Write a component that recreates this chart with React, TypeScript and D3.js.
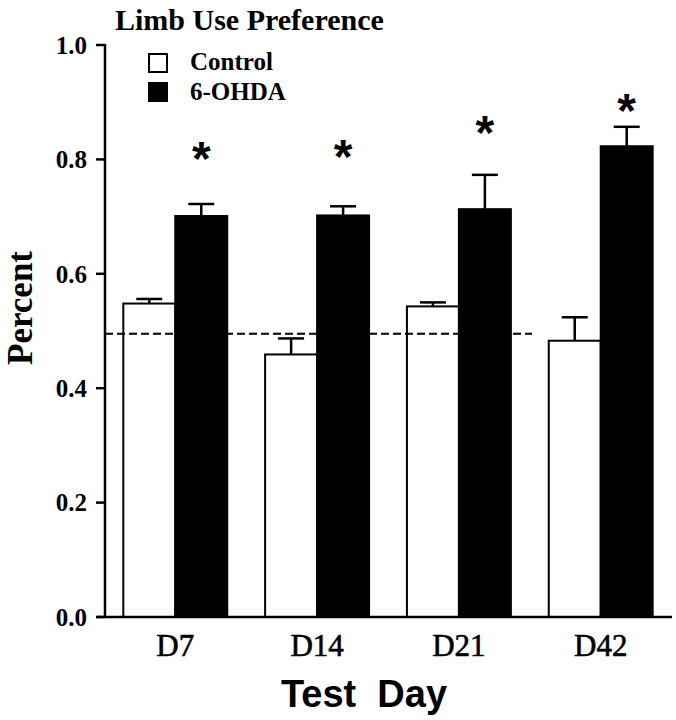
import React from "react";
import * as d3 from "d3";

const categories = ["D7", "D14", "D21", "D42"];
const seriesNames = ["Control", "6-OHDA"];
const controlMean = [0.548, 0.459, 0.543, 0.483];
const controlErr = [0.008, 0.028, 0.007, 0.041];
const ohdaMean = [0.701, 0.702, 0.713, 0.823];
const ohdaErr = [0.021, 0.016, 0.06, 0.034];
const sigMarkY = [0.813, 0.816, 0.858, 0.897];
const chanceLevel = 0.495;
const yTicks = [0, 0.2, 0.4, 0.6, 0.8, 1.0];

const W = 676;
const H = 720;
const axisX = 105;
const serif = "'Liberation Serif', 'Times New Roman', serif";
const sans = "'Liberation Sans', Arial, sans-serif";

export default function App() {
  const y = d3.scaleLinear().domain([0, 1]).range([617, 45]);
  const x = d3
    .scaleBand<string>()
    .domain(categories)
    .range([106, 670])
    .paddingInner(0.267)
    .paddingOuter(0.122);
  const inner = d3
    .scaleBand<string>()
    .domain(seriesNames)
    .range([0, x.bandwidth()])
    .padding(0);
  const bw = inner.bandwidth();
  const capW = bw / 2;

  const series = [
    { name: seriesNames[0], mean: controlMean, err: controlErr, fill: "#fff" },
    { name: seriesNames[1], mean: ohdaMean, err: ohdaErr, fill: "#000" },
  ];

  const asteriskSize = 48;

  return (
    <svg
      width={W}
      height={H}
      viewBox={`0 0 ${W} ${H}`}
      style={{ position: "absolute", left: 0, top: 0, background: "#fff" }}
    >
      <rect x={0} y={0} width={W} height={H} fill="#fff" />
      {/* title */}
      <text x={115} y={30} fontFamily={serif} fontWeight="bold" fontSize={30} fill="#000">
        Limb Use Preference
      </text>

      {/* bars */}
      {categories.map((c, i) => (
        <g key={c}>
          {series.map((s) => {
            const bx = (x(c) as number) + (inner(s.name) as number);
            const top = y(s.mean[i]);
            const errTop = y(s.mean[i] + s.err[i]);
            const cx = bx + bw / 2;
            return (
              <g key={s.name}>
                <line x1={cx} x2={cx} y1={top} y2={errTop} stroke="#000" strokeWidth={2.5} />
                <line x1={cx - capW / 2} x2={cx + capW / 2} y1={errTop} y2={errTop} stroke="#000" strokeWidth={2.5} />
                <rect
                  x={bx}
                  y={top}
                  width={bw}
                  height={y(0) - top}
                  fill={s.fill}
                  stroke="#000"
                  strokeWidth={2}
                />
              </g>
            );
          })}
        </g>
      ))}

      {/* chance line */}
      <line
        x1={axisX}
        x2={532}
        y1={y(chanceLevel)}
        y2={y(chanceLevel)}
        stroke="#000"
        strokeWidth={2}
        strokeDasharray="8 4"
      />

      {/* significance markers */}
      {categories.map((c, i) => {
        const cx = (x(c) as number) + (inner(seriesNames[1]) as number) + bw / 2;
        return (
          <text
            key={"s" + c}
            x={cx}
            y={y(sigMarkY[i]) + asteriskSize * 0.48}
            textAnchor="middle"
            fontFamily={sans}
            fontWeight="bold"
            fontSize={asteriskSize}
            fill="#000"
          >
            *
          </text>
        );
      })}

      {/* y axis */}
      <line x1={axisX} x2={axisX} y1={y(1) - 1} y2={y(0)} stroke="#000" strokeWidth={2.5} />
      {yTicks.map((t) => (
        <g key={t}>
          <line x1={96} x2={axisX} y1={y(t)} y2={y(t)} stroke="#000" strokeWidth={2.5} />
          <text
            x={87}
            y={y(t)}
            dy="0.35em"
            textAnchor="end"
            fontFamily={serif}
            fontWeight="bold"
            fontSize={25}
            fill="#000"
          >
            {t.toFixed(1)}
          </text>
        </g>
      ))}

      {/* x axis */}
      <line x1={97} x2={672} y1={y(0)} y2={y(0)} stroke="#000" strokeWidth={2.5} />
      {categories.map((c) => (
        <text
          key={"l" + c}
          x={(x(c) as number) + x.bandwidth() / 2}
          y={656}
          textAnchor="middle"
          fontFamily={serif}
          fontSize={31}
          stroke="#000"
          strokeWidth={0.6}
          fill="#000"
        >
          {c}
        </text>
      ))}

      {/* axis titles */}
      <text
        transform="translate(32,308) rotate(-90)"
        textAnchor="middle"
        fontFamily={serif}
        fontWeight="bold"
        fontSize={35}
        fill="#000"
      >
        Percent
      </text>
      <text
        x={364}
        y={707}
        textAnchor="middle"
        fontFamily={sans}
        fontWeight="bold"
        fontSize={38}
        fill="#000"
        style={{ whiteSpace: "pre" }}
      >
        {"Test  Day"}
      </text>

      {/* legend */}
      {series.map((s, i) => (
        <g key={"lg" + s.name}>
          <rect x={149} y={54 + i * 29} width={18} height={18} fill={s.fill} stroke="#000" strokeWidth={2} />
          <text x={190} y={70 + i * 30} fontFamily={serif} fontWeight="bold" fontSize={25} fill="#000">
            {s.name}
          </text>
        </g>
      ))}
    </svg>
  );
}
